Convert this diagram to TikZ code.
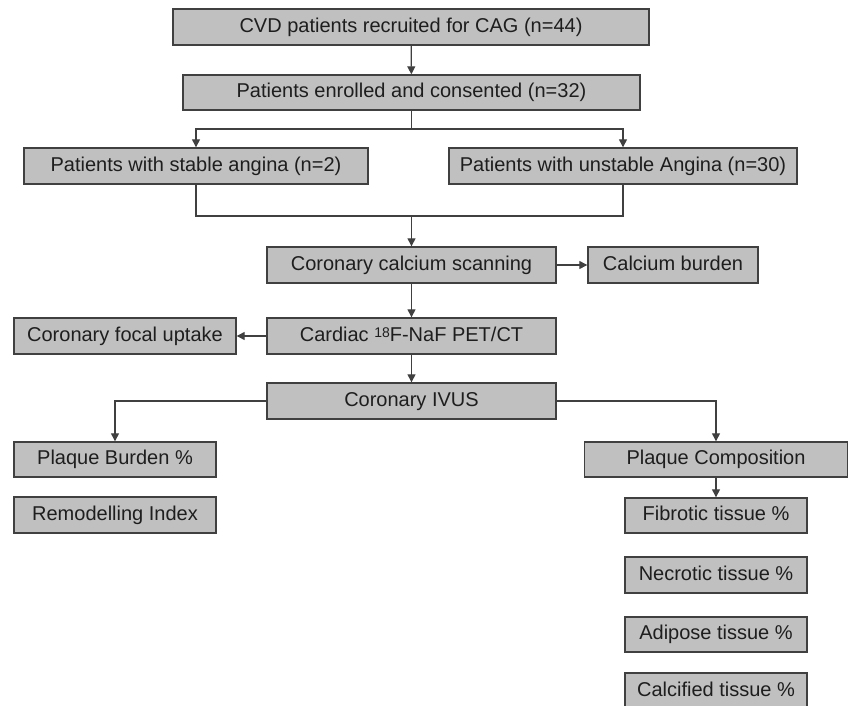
\documentclass[tikz,border=0pt]{standalone}
\usepackage{fontspec}
\setmainfont{Liberation Sans}
\usetikzlibrary{arrows.meta}
\definecolor{boxfill}{HTML}{C0C0C0}
\definecolor{boxline}{HTML}{404040}
\definecolor{txt}{HTML}{1E1E1E}
\tikzset{
  box/.style={draw=boxline, line width=1.4pt, fill=boxfill, text=txt, inner sep=0pt,
    font=\fontsize{20}{24}\selectfont, text height=14.5pt, text depth=4pt, minimum height=36pt},
  conn/.style={draw=boxline, line width=1.3pt},
  arr/.style={conn, -{Triangle[length=8pt,width=8pt]}}
}
\begin{document}
\begin{tikzpicture}[x=1pt,y=-1pt]
\useasboundingbox (0,0) rectangle (848,706);
\node[box, minimum width=476pt] (cvd) at (411,27) {CVD patients recruited for CAG (n=44)};
\node[box, minimum width=457pt, minimum height=35pt] (enr) at (411.5,92.5) {Patients enrolled and consented (n=32)};
\node[box, minimum width=344pt] (stab) at (196,166) {Patients with stable angina (n=2)};
\node[box, minimum width=348pt] (unst) at (623,166) {Patients with unstable Angina (n=30)};
\node[box, minimum width=289pt] (ccs) at (411.5,265) {Coronary calcium scanning};
\node[box, minimum width=170pt] (burden) at (673,265) {Calcium burden};
\node[box, minimum width=289pt] (pet) at (411.5,336) {Cardiac {\fontsize{14}{16}\selectfont\raisebox{4pt}{18}}F-NaF PET/CT};
\node[box, minimum width=222pt] (focal) at (125,336) {Coronary focal uptake};
\node[box, minimum width=289pt] (ivus) at (411.5,401) {Coronary IVUS};
\node[box, minimum width=202pt, minimum height=35pt] (pb) at (115,459.5) {Plaque Burden \%};
\node[box, minimum width=202pt] (rem) at (115,515) {Remodelling Index};
\node[box, minimum width=263pt, minimum height=35pt] (pc) at (716,459.5) {Plaque Composition};
\node[box, minimum width=182pt, minimum height=35pt] (fib) at (716,515.5) {Fibrotic tissue \%};
\node[box, minimum width=182pt] (nec) at (716,575) {Necrotic tissue \%};
\node[box, minimum width=182pt, minimum height=35pt] (adi) at (716,634.5) {Adipose tissue \%};
\node[box, minimum width=182pt] (cal) at (716,691) {Calcified tissue \%};
\coordinate (b1) at (411.5,129);
\coordinate (m1) at (411.5,216);
\draw[arr] (cvd) -- (enr);
\draw[conn] (enr.south) -- (b1);
\draw[arr] (b1) -| (stab.north);
\draw[arr] (b1) -| (unst.north);
\draw[conn] (stab.south) |- (m1);
\draw[conn] (unst.south) |- (m1);
\draw[arr] (m1) -- (ccs.north);
\draw[arr] (ccs) -- (burden);
\draw[arr] (ccs) -- (pet);
\draw[arr] (pet) -- (focal);
\draw[arr] (pet) -- (ivus);
\draw[arr] (ivus.west) -| (pb.north);
\draw[arr] (ivus.east) -| (pc.north);
\draw[arr] (pc) -- (fib);
\end{tikzpicture}
\end{document}
